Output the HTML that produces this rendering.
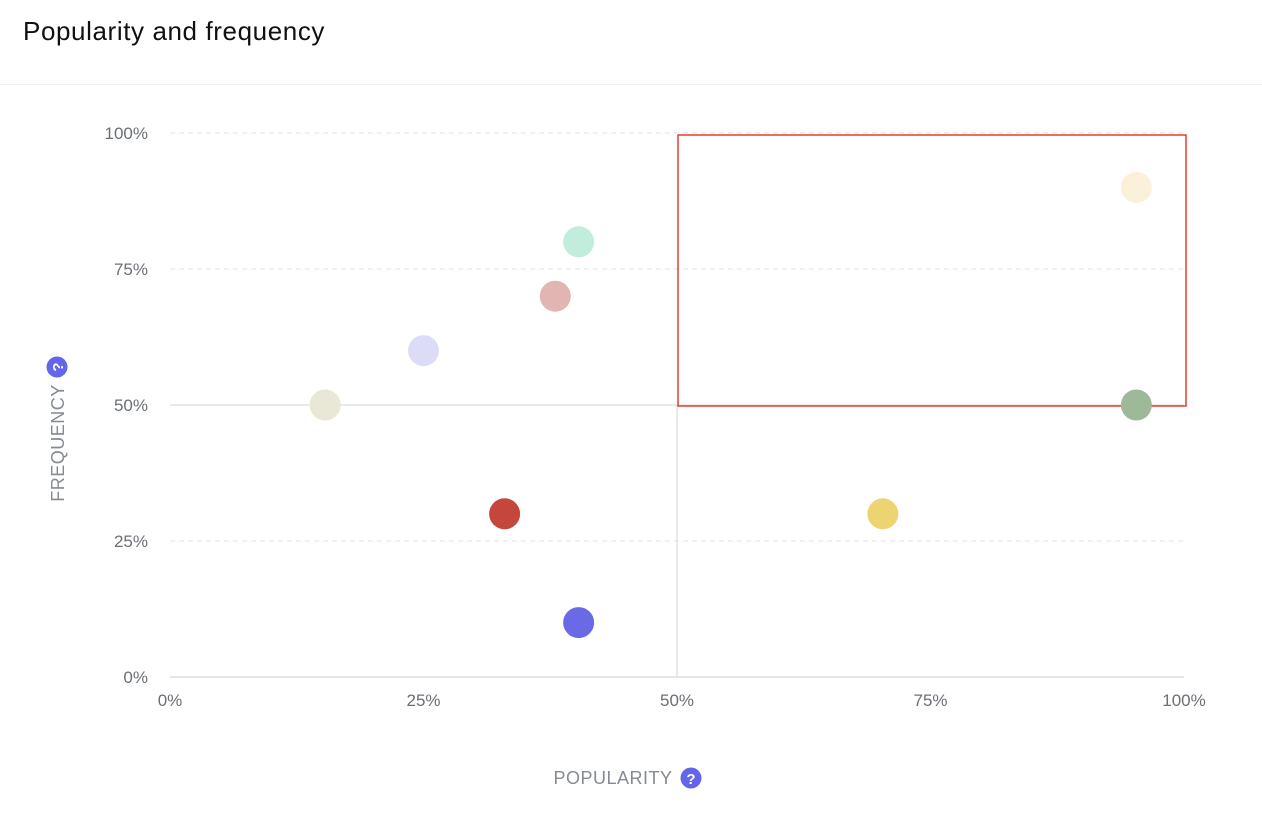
<!DOCTYPE html>
<html><head><meta charset="utf-8"><style>
body{margin:0;background:#fff;font-family:"Liberation Sans",sans-serif;}
#wrap{position:relative;width:1262px;height:814px;overflow:hidden}
h1{position:absolute;left:23px;top:16px;margin:0;font-size:26px;font-weight:normal;color:#111;letter-spacing:0.6px;}
#sep{position:absolute;left:0;top:84px;width:1262px;height:1px;background:#eef0f2}
</style></head><body>
<div id="wrap">
<h1>Popularity and frequency</h1>
<div id="sep"></div>
<svg id="chart" width="1262" height="814" style="position:absolute;left:0;top:0"></svg>
</div>
<script>
const popularity=[15.3,25,38,40.3,33,40.3,70.3,95.3,95.3];
const frequency=[50,60,70,80,30,10,30,90,50];
const colors=["#e9e7d5","#dddcf8","#e1b5b1","#c1eddc","#c4463c","#6b6ae6","#edd473","#fbf1da","#9db999"];
const ticks=[0,25,50,75,100];
const tickLabels=["0%","25%","50%","75%","100%"];
const highlight=[50,100,50,100];
const NS="http://www.w3.org/2000/svg";
const svg=document.getElementById('chart');
const X=v=>170+v/100*1014, Y=v=>677-v/100*544;
function mk(t,a){const e=document.createElementNS(NS,t);for(const k in a)e.setAttribute(k,a[k]);svg.appendChild(e);return e;}
ticks.forEach((t,i)=>{
 let l;
 if(t===0){l=mk('line',{x1:170,x2:1184,y1:Y(t),y2:Y(t),stroke:'#dcdfe3','stroke-width':1.5});}
 else if(t===50){l=mk('line',{x1:170,x2:1184,y1:Y(t),y2:Y(t),stroke:'#e2e4e7','stroke-width':1.5});}
 else{l=mk('line',{x1:170,x2:1184,y1:Y(t),y2:Y(t),stroke:'#dfe1e4','stroke-width':1,'stroke-dasharray':'5,4'});}
 
 const yt=mk('text',{x:148,y:Y(t)+6,'text-anchor':'end','font-size':17,fill:'#6b6f75'});yt.textContent=tickLabels[i];
 
 const xt=mk('text',{x:X(t),y:706,'text-anchor':'middle','font-size':17,fill:'#6b6f75'});xt.textContent=tickLabels[i];
 
});
const vl=mk('line',{x1:X(50),x2:X(50),y1:Y(50),y2:Y(0),stroke:'#e2e4e7','stroke-width':1.5});

const r=mk('rect',{x:X(highlight[0])+1,y:Y(highlight[3])+2,width:X(highlight[1])-X(highlight[0])+1,height:Y(highlight[2])-Y(highlight[3])-1,fill:'none',stroke:'#e0402e','stroke-width':1.5});

popularity.forEach((p,i)=>{
 const c=mk('circle',{cx:X(p),cy:Y(frequency[i]),r:15.5,fill:colors[i]});
 
});
const xa=mk('text',{x:613,y:784,'text-anchor':'middle','font-size':18,fill:'#858b93','letter-spacing':'0.5'});xa.textContent='POPULARITY';

const xi=mk('circle',{cx:691,cy:778,r:10.5,fill:'#6366e8'});
const xq=mk('text',{x:691,y:784,'text-anchor':'middle','font-size':15,'font-weight':'bold',fill:'#fff'});xq.textContent='?';

const ya=mk('text',{x:0,y:0,'text-anchor':'middle','font-size':18,fill:'#858b93','letter-spacing':'0.5',transform:'translate(64,443) rotate(-90)'});ya.textContent='FREQUENCY';

const yi=mk('circle',{cx:57,cy:367,r:10.5,fill:'#6366e8'});
const yq=mk('text',{x:0,y:0,'text-anchor':'middle','font-size':15,'font-weight':'bold',fill:'#fff',transform:'translate(63,367) rotate(-90)'});yq.textContent='?';

</script>
</body></html>
